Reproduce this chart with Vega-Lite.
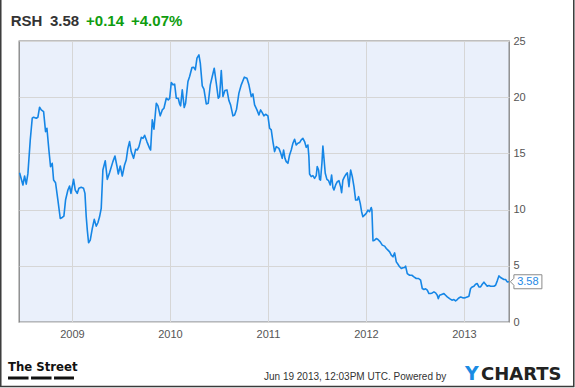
{
  "$schema": "https://vega.github.io/schema/vega-lite/v6.json",
  "width": 490,
  "height": 281,
  "autosize": {"type": "none"},
  "padding": {"left": 19, "top": 41, "right": 66, "bottom": 66},
  "background": "white",
  "config": {
    "view": {"fill": "#eaf0fb", "stroke": "#808080", "strokeWidth": 1.3},
    "font": "Liberation Sans",
    "axis": {"title": null, "grid": true, "gridColor": "#d6d6d6", "gridWidth": 1, "ticks": false, "domain": false, "labelFontSize": 11, "labelColor": "#555555", "labelFont": "Liberation Sans", "labelFlush": false}
  },
  "data": {"values": [
    {"t":2008.466,"price":13.28},{"t":2008.500,"price":12.19},{"t":2008.517,"price":12.99},{"t":2008.534,"price":12.27},{"t":2008.551,"price":13.22},{"t":2008.575,"price":16.20},{"t":2008.595,"price":18.13},{"t":2008.609,"price":18.22},{"t":2008.636,"price":18.13},{"t":2008.653,"price":18.22},{"t":2008.670,"price":19.11},{"t":2008.687,"price":18.87},{"t":2008.711,"price":18.72},{"t":2008.731,"price":16.94},{"t":2008.745,"price":17.24},{"t":2008.765,"price":15.30},{"t":2008.782,"price":13.82},{"t":2008.799,"price":14.12},{"t":2008.813,"price":12.63},{"t":2008.833,"price":12.39},{"t":2008.857,"price":10.85},{"t":2008.881,"price":9.21},{"t":2008.901,"price":9.30},{"t":2008.918,"price":9.42},{"t":2008.935,"price":10.85},{"t":2008.959,"price":11.74},{"t":2008.976,"price":12.10},{"t":2008.990,"price":11.44},{"t":2009.017,"price":12.69},{"t":2009.034,"price":11.74},{"t":2009.054,"price":11.44},{"t":2009.071,"price":11.89},{"t":2009.095,"price":11.98},{"t":2009.119,"price":11.89},{"t":2009.133,"price":11.44},{"t":2009.146,"price":9.36},{"t":2009.157,"price":8.17},{"t":2009.170,"price":7.05},{"t":2009.187,"price":7.28},{"t":2009.208,"price":8.32},{"t":2009.228,"price":9.13},{"t":2009.248,"price":8.53},{"t":2009.265,"price":8.83},{"t":2009.282,"price":9.36},{"t":2009.299,"price":10.11},{"t":2009.316,"price":13.52},{"t":2009.340,"price":14.35},{"t":2009.361,"price":12.69},{"t":2009.384,"price":13.28},{"t":2009.418,"price":14.27},{"t":2009.439,"price":14.77},{"t":2009.459,"price":13.88},{"t":2009.473,"price":13.17},{"t":2009.493,"price":13.88},{"t":2009.514,"price":12.99},{"t":2009.537,"price":13.97},{"t":2009.554,"price":14.41},{"t":2009.571,"price":15.45},{"t":2009.588,"price":16.05},{"t":2009.605,"price":15.16},{"t":2009.629,"price":14.56},{"t":2009.650,"price":15.36},{"t":2009.667,"price":15.30},{"t":2009.684,"price":15.60},{"t":2009.708,"price":16.43},{"t":2009.725,"price":16.34},{"t":2009.742,"price":16.61},{"t":2009.765,"price":16.05},{"t":2009.793,"price":15.45},{"t":2009.803,"price":15.30},{"t":2009.820,"price":17.98},{"t":2009.837,"price":17.15},{"t":2009.861,"price":19.46},{"t":2009.878,"price":19.23},{"t":2009.901,"price":18.34},{"t":2009.922,"price":18.87},{"t":2009.939,"price":19.02},{"t":2009.963,"price":19.91},{"t":2009.983,"price":19.76},{"t":2009.997,"price":19.88},{"t":2010.014,"price":21.31},{"t":2010.031,"price":21.10},{"t":2010.048,"price":21.16},{"t":2010.065,"price":19.91},{"t":2010.085,"price":19.91},{"t":2010.099,"price":19.40},{"t":2010.109,"price":19.23},{"t":2010.126,"price":20.65},{"t":2010.146,"price":19.08},{"t":2010.160,"price":19.46},{"t":2010.184,"price":21.40},{"t":2010.201,"price":21.84},{"t":2010.225,"price":22.64},{"t":2010.242,"price":22.67},{"t":2010.259,"price":22.43},{"t":2010.276,"price":23.47},{"t":2010.296,"price":23.77},{"t":2010.310,"price":23.03},{"t":2010.330,"price":21.01},{"t":2010.347,"price":20.71},{"t":2010.371,"price":19.40},{"t":2010.391,"price":19.46},{"t":2010.412,"price":21.10},{"t":2010.432,"price":21.84},{"t":2010.452,"price":22.58},{"t":2010.473,"price":21.25},{"t":2010.493,"price":19.91},{"t":2010.507,"price":20.06},{"t":2010.524,"price":22.38},{"t":2010.541,"price":20.06},{"t":2010.561,"price":20.59},{"t":2010.582,"price":20.65},{"t":2010.602,"price":19.70},{"t":2010.619,"price":19.32},{"t":2010.643,"price":18.34},{"t":2010.660,"price":18.42},{"t":2010.680,"price":18.93},{"t":2010.704,"price":20.36},{"t":2010.728,"price":21.10},{"t":2010.759,"price":21.78},{"t":2010.786,"price":21.69},{"t":2010.806,"price":21.10},{"t":2010.830,"price":20.06},{"t":2010.847,"price":20.30},{"t":2010.864,"price":19.32},{"t":2010.888,"price":18.87},{"t":2010.908,"price":18.42},
    {"t":2010.925,"price":18.87},{"t":2010.942,"price":18.63},{"t":2010.959,"price":18.34},{"t":2010.976,"price":18.48},{"t":2011.000,"price":18.34},{"t":2011.017,"price":17.24},{"t":2011.034,"price":17.09},{"t":2011.051,"price":16.05},{"t":2011.068,"price":15.16},{"t":2011.085,"price":15.60},{"t":2011.112,"price":15.45},{"t":2011.129,"price":15.07},{"t":2011.146,"price":14.56},{"t":2011.160,"price":15.30},{"t":2011.174,"price":14.56},{"t":2011.187,"price":14.27},{"t":2011.204,"price":14.12},{"t":2011.221,"price":14.86},{"t":2011.238,"price":15.30},{"t":2011.255,"price":15.90},{"t":2011.272,"price":16.26},{"t":2011.289,"price":15.75},{"t":2011.306,"price":15.90},{"t":2011.323,"price":15.96},{"t":2011.340,"price":16.20},{"t":2011.357,"price":16.34},{"t":2011.374,"price":16.05},{"t":2011.391,"price":15.54},{"t":2011.408,"price":15.75},{"t":2011.418,"price":14.71},{"t":2011.425,"price":13.17},{"t":2011.442,"price":12.93},{"t":2011.459,"price":13.02},{"t":2011.476,"price":12.78},{"t":2011.493,"price":13.02},{"t":2011.503,"price":13.82},{"t":2011.517,"price":13.52},{"t":2011.527,"price":12.69},{"t":2011.537,"price":12.63},{"t":2011.551,"price":14.12},{"t":2011.561,"price":15.66},{"t":2011.572,"price":14.56},{"t":2011.585,"price":13.23},{"t":2011.602,"price":12.69},{"t":2011.619,"price":12.57},{"t":2011.636,"price":12.19},{"t":2011.650,"price":13.08},{"t":2011.663,"price":11.98},{"t":2011.674,"price":11.74},{"t":2011.691,"price":12.19},{"t":2011.708,"price":12.48},{"t":2011.725,"price":12.57},{"t":2011.742,"price":12.04},{"t":2011.752,"price":11.50},{"t":2011.765,"price":12.63},{"t":2011.782,"price":12.93},{"t":2011.799,"price":13.17},{"t":2011.810,"price":13.28},{"t":2011.827,"price":12.04},{"t":2011.844,"price":13.52},{"t":2011.861,"price":12.93},{"t":2011.878,"price":12.04},{"t":2011.895,"price":10.85},{"t":2011.912,"price":10.85},{"t":2011.925,"price":11.15},{"t":2011.942,"price":10.55},{"t":2011.956,"price":9.81},{"t":2011.969,"price":9.36},{"t":2011.986,"price":9.51},{"t":2012.003,"price":9.66},{"t":2012.020,"price":9.96},{"t":2012.037,"price":9.81},{"t":2012.054,"price":10.19},{"t":2012.061,"price":9.96},{"t":2012.072,"price":7.22},{"t":2012.089,"price":7.28},{"t":2012.106,"price":7.43},{"t":2012.123,"price":7.34},{"t":2012.146,"price":7.13},{"t":2012.167,"price":6.84},{"t":2012.191,"price":6.75},{"t":2012.208,"price":6.54},{"t":2012.225,"price":6.39},{"t":2012.242,"price":6.24},{"t":2012.259,"price":5.95},{"t":2012.276,"price":5.80},{"t":2012.293,"price":6.15},{"t":2012.310,"price":5.35},{"t":2012.327,"price":5.14},{"t":2012.344,"price":4.91},{"t":2012.361,"price":4.76},{"t":2012.378,"price":4.82},{"t":2012.395,"price":4.85},{"t":2012.405,"price":4.97},{"t":2012.422,"price":4.31},{"t":2012.446,"price":4.16},{"t":2012.469,"price":4.16},{"t":2012.490,"price":4.02},{"t":2012.514,"price":3.87},{"t":2012.537,"price":3.87},{"t":2012.558,"price":3.72},{"t":2012.575,"price":2.98},{"t":2012.592,"price":2.89},{"t":2012.609,"price":2.95},{"t":2012.626,"price":2.83},{"t":2012.643,"price":2.53},{"t":2012.660,"price":2.53},{"t":2012.677,"price":2.59},{"t":2012.694,"price":2.68},{"t":2012.711,"price":2.59},{"t":2012.728,"price":2.38},{"t":2012.738,"price":2.08},{"t":2012.752,"price":2.38},{"t":2012.779,"price":2.47},{"t":2012.796,"price":2.53},{"t":2012.813,"price":2.38},{"t":2012.830,"price":2.23},{"t":2012.854,"price":2.08},{"t":2012.878,"price":1.94},{"t":2012.898,"price":2.00},{"t":2012.915,"price":1.88},{"t":2012.932,"price":2.00},{"t":2012.949,"price":2.14},{"t":2012.966,"price":2.23},{"t":2012.983,"price":2.17},{"t":2013.000,"price":2.14},{"t":2013.017,"price":2.17},{"t":2013.034,"price":2.23},{"t":2013.051,"price":2.29},{"t":2013.068,"price":2.98},{"t":2013.085,"price":3.12},{"t":2013.102,"price":3.18},{"t":2013.119,"price":3.36},{"t":2013.136,"price":3.42},{"t":2013.153,"price":3.12},{"t":2013.170,"price":3.12},{"t":2013.187,"price":3.36},{"t":2013.204,"price":3.54},{"t":2013.221,"price":3.36},{"t":2013.238,"price":3.18},{"t":2013.255,"price":3.24},{"t":2013.272,"price":3.18},{"t":2013.289,"price":3.18},{"t":2013.306,"price":3.18},{"t":2013.323,"price":3.27},{"t":2013.340,"price":3.66},{"t":2013.357,"price":4.10},{"t":2013.374,"price":3.96},{"t":2013.391,"price":3.87},{"t":2013.408,"price":3.78},{"t":2013.425,"price":3.78},{"t":2013.442,"price":3.57},{"t":2013.459,"price":3.58}
  ]},
  "layer": [
    {
      "mark": {"type": "line", "color": "#1586e6", "strokeWidth": 1.6, "strokeJoin": "round"},
      "encoding": {
        "x": {"field": "t", "type": "quantitative", "scale": {"domain": [2008.46, 2013.46], "nice": false, "zero": false},
              "axis": {"title": null, "values": [2009, 2010, 2011, 2012, 2013], "format": "d", "labelPadding": 6}},
        "y": {"field": "price", "type": "quantitative", "scale": {"domain": [0, 25], "nice": false},
              "axis": {"title": null, "orient": "right", "values": [0, 5, 10, 15, 20, 25], "labelPadding": 4, "labelBaseline": "middle"}}
      }
    },
    {
      "transform": [{"filter": "datum.t >= 2013.459"}],
      "mark": {"type": "point", "shape": "M0.15,0 L0.5,-0.35 L0.5,-0.7 L3.3,-0.7 L3.3,0.7 L0.5,0.7 L0.5,0.35 Z", "size": 400, "filled": true, "fill": "white", "stroke": "#8a8a8a", "strokeWidth": 1, "opacity": 1},
      "encoding": {"x": {"field": "t", "type": "quantitative"}, "y": {"field": "price", "type": "quantitative"}}
    },
    {
      "transform": [{"filter": "datum.t >= 2013.459"}],
      "mark": {"type": "text", "dx": 19, "align": "center", "baseline": "middle", "fontSize": 11, "color": "#1e88e5", "font": "Liberation Sans"},
      "encoding": {"x": {"field": "t", "type": "quantitative"}, "y": {"field": "price", "type": "quantitative"}, "text": {"field": "price", "type": "quantitative", "format": ".2f"}}
    },
    {
      "data": {"values": [{"label": "RSH"}]},
      "mark": {"type": "text", "align": "left", "baseline": "alphabetic", "fontSize": 15, "fontWeight": "bold", "color": "#333333"},
      "encoding": {"x": {"datum": 2008.375, "type": "quantitative"}, "y": {"datum": 26.33, "type": "quantitative"}, "text": {"field": "label"}}
    },
    {
      "data": {"values": [{"label": "3.58"}]},
      "mark": {"type": "text", "align": "left", "baseline": "alphabetic", "fontSize": 15, "fontWeight": "bold", "color": "#333333"},
      "encoding": {"x": {"datum": 2008.776, "type": "quantitative"}, "y": {"datum": 26.33, "type": "quantitative"}, "text": {"field": "label"}}
    },
    {
      "data": {"values": [{"label": "+0.14"}]},
      "mark": {"type": "text", "align": "left", "baseline": "alphabetic", "fontSize": 15, "fontWeight": "bold", "color": "#0f9d0f"},
      "encoding": {"x": {"datum": 2009.144, "type": "quantitative"}, "y": {"datum": 26.33, "type": "quantitative"}, "text": {"field": "label"}}
    },
    {
      "data": {"values": [{"label": "+4.07%"}]},
      "mark": {"type": "text", "align": "left", "baseline": "alphabetic", "fontSize": 15, "fontWeight": "bold", "color": "#0f9d0f"},
      "encoding": {"x": {"datum": 2009.603, "type": "quantitative"}, "y": {"datum": 26.33, "type": "quantitative"}, "text": {"field": "label"}}
    },
    {
      "data": {"values": [{"label": "The Street"}]},
      "mark": {"type": "text", "align": "left", "baseline": "alphabetic", "fontSize": 13, "fontWeight": "bold", "color": "#111111", "font": "DejaVu Sans Condensed"},
      "encoding": {"x": {"datum": 2008.348, "type": "quantitative"}, "y": {"datum": -4.36, "type": "quantitative"}, "text": {"field": "label"}}
    },
    {
      "data": {"values": [{}]},
      "mark": {"type": "rule", "color": "#111111", "strokeWidth": 3, "strokeDash": [20.5, 2.5]},
      "encoding": {"x": {"datum": 2008.348, "type": "quantitative"}, "x2": {"datum": 2009.021}, "y": {"datum": -4.98, "type": "quantitative"}}
    },
    {
      "data": {"values": [{"label": "Jun 19 2013, 12:03PM UTC.  Powered by"}]},
      "mark": {"type": "text", "align": "left", "baseline": "alphabetic", "fontSize": 10, "color": "#333333"},
      "encoding": {"x": {"datum": 2010.96, "type": "quantitative"}, "y": {"datum": -5.16, "type": "quantitative"}, "text": {"field": "label"}}
    },
    {
      "data": {"values": [{"label": "Y"}]},
      "mark": {"type": "text", "align": "left", "baseline": "alphabetic", "fontSize": 19, "fontWeight": "bold", "color": "#1a8be3", "font": "DejaVu Sans"},
      "encoding": {"x": {"datum": 2013.011, "type": "quantitative"}, "y": {"datum": -5.16, "type": "quantitative"}, "text": {"field": "label"}}
    },
    {
      "data": {"values": [{"label": "CHARTS"}]},
      "mark": {"type": "text", "align": "left", "baseline": "alphabetic", "fontSize": 18, "fontWeight": "bold", "color": "#222222", "font": "DejaVu Sans"},
      "encoding": {"x": {"datum": 2013.175, "type": "quantitative"}, "y": {"datum": -5.16, "type": "quantitative"}, "text": {"field": "label"}}
    },
    {
      "data": {"values": [{}]},
      "mark": {"type": "rect", "fill": null, "fillOpacity": 0, "stroke": "#3a3a3a", "strokeWidth": 1.5},
      "encoding": {"x": {"datum": 2008.274, "type": "quantitative"}, "x2": {"datum": 2014.121}, "y": {"datum": 28.83, "type": "quantitative"}, "y2": {"datum": -5.74}}
    }
  ]
}
